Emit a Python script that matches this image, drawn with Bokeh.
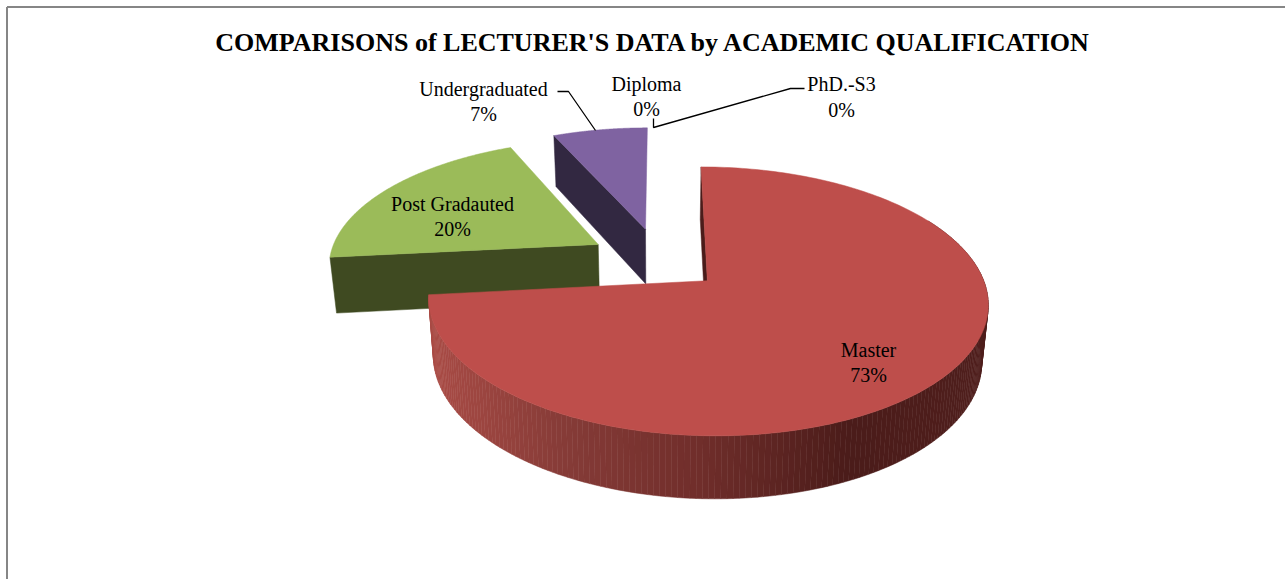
import numpy as np
from bokeh.plotting import figure
from bokeh.embed import file_html
from bokeh.resources import INLINE
from bokeh.core.properties import value

TITLE = "COMPARISONS of LECTURER'S DATA by ACADEMIC QUALIFICATION"
categories = ["Master", "Post Gradauted", "Undergraduated", "Diploma", "PhD.-S3"]
shares = [73.33, 20.0, 6.67, 0.0, 0.0]

top_colors = ["#BE4E4B", "#9BBB59", "#7F63A1"]
side_colors = ["#5A2220", "#3F4A21", "#322841"]
explode = [0.23, 0.27, 0.27]

# label centres (page pixels): name line y, percent line y
label_x = [868, 452, 483, 646, 841]
label_y = [349, 203, 88, 83, 83]
pct_y = [374, 228, 113, 108, 109]

W, H = 1285, 579
XC, YC, A, B, K = 659.6, 260.5, 270.0, 125.3, 0.15
SX, SY, DEPTH = 0.98, 1.04, 56.0


def proj(u, v):
    d = 1 - K * v
    return XC + A * u / d, YC + B * v / d


def lower(x, y):
    return XC + (x - XC) * SX, YC + (y - YC) * SY + DEPTH


def ring(t, off):
    return off[0] + np.sin(t), off[1] - np.cos(t)


p = figure(width=W, height=H, x_range=(0, W), y_range=(H, 0), toolbar_location=None,
           output_backend="svg", min_border=0, outline_line_color=None,
           x_axis_location=None, y_axis_location=None,
           styles={"position": "absolute", "left": "0px", "top": "0px"})
p.grid.visible = False
p.background_fill_color = "white"
p.border_fill_color = "white"

# chart frame
p.line([6.5, 6.5], [H, 6.5], line_color="#868686", line_width=2)
p.line([6.5, W], [6.5, 6.5], line_color="#868686", line_width=2)

fr = np.array(shares) / sum(shares)
ends = np.cumsum(fr) * 2 * np.pi
starts = np.concatenate([[0], ends[:-1]])
slices = []
for i in range(3):
    mid = (starts[i] + ends[i]) / 2
    off = (explode[i] * np.sin(mid), -explode[i] * np.cos(mid))
    ts = np.linspace(starts[i], ends[i], 240)
    uu, vv = ring(ts, off)
    ax, ay = proj(uu, vv)
    vx, vy = proj(np.array(off[0]), np.array(off[1]))
    slices.append((off, ts, ax, ay, float(vx), float(vy)))


def quad(x0, y0, x1, y1, color):
    bx1, by1 = lower(x1, y1)
    bx0, by0 = lower(x0, y0)
    p.patch([x0, x1, bx1, bx0], [y0, y1, by1, by0], fill_color=color, line_color=color, line_width=0.5)


# Undergraduated: left radial wall and top
off, ts, ax, ay, vx, vy = slices[2]
quad(vx, vy, ax[0], ay[0], side_colors[2])
p.patch(np.r_[vx, ax], np.r_[vy, ay], fill_color=top_colors[2], line_color=top_colors[2], line_width=0.5)

# Post Gradauted: front radial wall and top
off, ts, ax, ay, vx, vy = slices[1]
quad(vx, vy, ax[0], ay[0], side_colors[1])
p.patch(np.r_[vx, ax], np.r_[vy, ay], fill_color=top_colors[1], line_color=top_colors[1], line_width=0.5)

# Master: start wall, shaded rim and top
off, ts, ax, ay, vx, vy = slices[0]
quad(vx, vy, ax[0], ay[0], "#4A1C1A")
grad_x = [428, 560, 700, 850, 990]
grad_r = [170, 135, 112, 75, 80]
grad_g = [76, 60, 46, 28, 31]
grad_b = [70, 56, 43, 26, 29]
for j in range(len(ts) - 1):
    if ts[j] < np.pi / 3:
        continue
    xm = (ax[j] + ax[j + 1]) / 2
    c = "#%02x%02x%02x" % tuple(int(np.interp(xm, grad_x, g)) for g in (grad_r, grad_g, grad_b))
    quad(ax[j], ay[j], ax[j + 1], ay[j + 1], c)
p.patch(np.r_[vx, ax], np.r_[vy, ay], fill_color=top_colors[0], line_color=top_colors[0], line_width=0.5)

# leader lines
p.line([557, 568, 595], [91, 91, 130], line_color="black", line_width=1.3)
p.line([653, 653, 790, 804], [118, 127, 88, 88], line_color="black", line_width=1.3)

# texts
pct = ["%d%%" % round(s) for s in shares]
font = value("Liberation Serif")
p.text(label_x, label_y, text=categories, text_font=font, text_font_size="20px",
       text_align="center", text_baseline="middle", text_color="black")
p.text(label_x, pct_y, text=pct, text_font=font, text_font_size="20px",
       text_align="center", text_baseline="middle", text_color="black")
p.text([653], [42], text=[TITLE], text_font=font, text_font_size="26px", text_font_style="bold",
       text_align="center", text_baseline="middle", text_color="black")

open("out.html", "w").write(file_html(p, INLINE))
